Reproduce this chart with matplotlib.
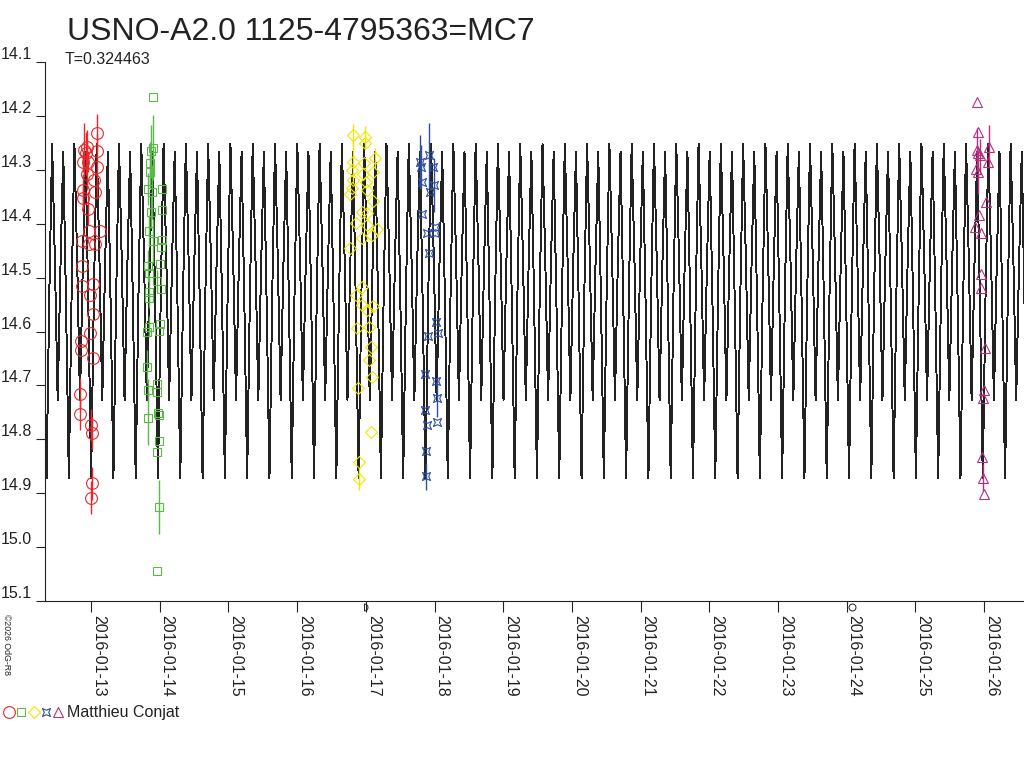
import numpy as np
import matplotlib
matplotlib.use("Agg")
import matplotlib.pyplot as plt
import matplotlib.dates as mdates
from matplotlib.path import Path
from matplotlib.lines import Line2D
from matplotlib.legend_handler import HandlerTuple
from matplotlib.ticker import FormatStrFormatter, MultipleLocator

plt.rcParams['font.family'] = ['Liberation Sans', 'DejaVu Sans']

title = "USNO-A2.0 1125-4795363=MC7"
period = 0.324463
observer = "Matthieu Conjat"
credit = "\u00a92026 OdG-R8"

# model light curve over one cycle, phase 0 = primary minimum
tpl_phase = [0.0, 0.125, 0.25, 0.375, 0.5, 0.625, 0.75, 0.875]
tpl_mag = [14.872, 14.53, 14.252, 14.47, 14.727, 14.48, 14.267, 14.55]
epoch = 19.815          # day of January 2016

# observations: day of January 2016, magnitude, error
red_t = [13.083, 12.937, 12.902, 12.923, 13.083, 12.888, 12.961, 13.092, 12.937,
         13.048, 12.888, 13.058, 12.879, 12.961, 12.971, 13.131, 12.873, 12.975,
         13.058, 12.865, 12.865, 13.033, 12.985, 13.033, 12.985, 12.850, 12.850,
         13.025, 12.840, 12.840, 13.000, 13.010, 13.010, 13.000]
red_m = [14.231, 14.257, 14.263, 14.269, 14.265, 14.285, 14.285, 14.294, 14.308,
         14.319, 14.337, 14.341, 14.352, 14.372, 14.413, 14.413, 14.433, 14.438,
         14.438, 14.478, 14.515, 14.511, 14.532, 14.568, 14.603, 14.617, 14.634,
         14.649, 14.716, 14.753, 14.773, 14.789, 14.882, 14.908]
red_e = [0.035, 0.03, 0.05, 0.04, 0.0, 0.02, 0.02, 0.06, 0.03,
         0.0, 0.03, 0.0, 0.02, 0.03, 0.0, 0.0, 0.0, 0.0,
         0.0, 0.0, 0.0, 0.0, 0.0, 0.0, 0.0, 0.0, 0.0,
         0.0, 0.03, 0.03, 0.03, 0.03, 0.03, 0.03]

green_t = [13.902, 13.898, 13.873, 13.859, 13.859, 13.834, 13.892, 14.029, 13.873,
           14.029, 13.848, 13.898, 14.029, 14.014, 13.825, 13.844, 14.004, 13.956,
           13.844, 13.848, 14.014, 13.844, 13.811, 14.004, 13.994, 13.811, 13.825,
           13.956, 13.956, 13.834, 13.979, 13.990, 13.990, 13.965, 13.990, 13.960]
green_m = [14.165, 14.259, 14.266, 14.288, 14.305, 14.336, 14.341, 14.336, 14.378,
           14.375, 14.413, 14.432, 14.430, 14.443, 14.478, 14.491, 14.475, 14.506,
           14.526, 14.537, 14.521, 14.591, 14.601, 14.586, 14.599, 14.665, 14.709,
           14.698, 14.712, 14.760, 14.752, 14.754, 14.804, 14.823, 14.925, 15.044]
green_e = [0.0, 0.06, 0.05, 0.04, 0.03, 0.03, 0.05, 0.0, 0.03,
           0.0, 0.03, 0.04, 0.0, 0.0, 0.03, 0.0, 0.0, 0.02,
           0.03, 0.0, 0.0, 0.02, 0.0, 0.0, 0.0, 0.03, 0.02,
           0.0, 0.0, 0.05, 0.0, 0.0, 0.0, 0.0, 0.05, 0.0]

yellow_t = [16.817, 16.987, 16.987, 17.133, 16.817, 16.973, 16.794, 16.962, 17.108,
            16.817, 17.002, 16.794, 17.012, 16.769, 17.108, 16.939, 17.012, 16.856,
            17.012, 17.157, 17.085, 16.948, 16.769, 16.939, 16.856, 16.939, 17.099,
            17.021, 16.866, 17.050, 17.070, 17.050, 17.085, 16.890, 17.070, 16.904,
            16.904]
yellow_m = [14.235, 14.239, 14.251, 14.279, 14.285, 14.287, 14.300, 14.307, 14.304,
            14.319, 14.322, 14.334, 14.337, 14.344, 14.357, 14.378, 14.381, 14.399,
            14.402, 14.410, 14.421, 14.427, 14.445, 14.517, 14.532, 14.551, 14.553,
            14.560, 14.594, 14.591, 14.629, 14.652, 14.684, 14.705, 14.786, 14.842,
            14.874]
yellow_e = [0.02, 0.02, 0.0, 0.02, 0.04, 0.0, 0.0, 0.0, 0.0,
            0.0, 0.0, 0.0, 0.0, 0.0, 0.0, 0.0, 0.0, 0.0,
            0.0, 0.0, 0.0, 0.0, 0.0, 0.0, 0.0, 0.0, 0.0,
            0.0, 0.0, 0.0, 0.0, 0.0, 0.0, 0.0, 0.0, 0.0,
            0.02]

blue_t = [17.787, 17.923, 17.981, 17.798, 17.812, 17.991, 17.933, 17.812, 17.894,
          18.006, 18.006, 17.918, 18.020, 17.908, 18.045, 17.860, 18.020, 18.039,
          17.860, 17.885, 18.031, 17.875, 17.875]
blue_m = [14.285, 14.273, 14.294, 14.294, 14.322, 14.328, 14.341, 14.382, 14.417,
          14.406, 14.417, 14.455, 14.582, 14.608, 14.603, 14.678, 14.692, 14.723,
          14.746, 14.773, 14.767, 14.821, 14.869]
blue_e = [0.05, 0.06, 0.0, 0.04, 0.0, 0.05, 0.0, 0.0, 0.0,
          0.0, 0.0, 0.0, 0.0, 0.0, 0.0, 0.0, 0.0, 0.035,
          0.0, 0.0, 0.0, 0.0, 0.025]

purple_t = [25.897, 25.912, 25.889, 26.072, 25.912, 25.937, 25.878, 26.057, 25.912,
            26.034, 25.926, 25.864, 25.947, 25.951, 25.951, 26.009, 25.995, 25.976,
            25.970, 25.985, 25.995]
purple_m = [14.174, 14.229, 14.263, 14.257, 14.269, 14.273, 14.299, 14.285, 14.304,
            14.359, 14.384, 14.406, 14.417, 14.494, 14.520, 14.631, 14.709, 14.724,
            14.832, 14.871, 14.902]
purple_e = [0.0, 0.0, 0.04, 0.04, 0.0, 0.03, 0.0, 0.0, 0.04,
            0.0, 0.0, 0.0, 0.0, 0.0, 0.0, 0.0, 0.0, 0.0,
            0.0, 0.025, 0.0]

# moon phases shown on the time axis (first quarter, full moon)
moon_t = [16.976, 24.074]

x_range = (12.33, 26.58)
y_range = (15.1, 14.1)


def jan_day(d):
    base = mdates.date2num(np.datetime64("2016-01-01"))
    return base + np.asarray(d, dtype=float) - 1.0


star = Path([(-1, -1), (0, -0.55), (1, -1), (0.55, 0), (1, 1), (0, 0.55),
             (-1, 1), (-0.55, 0), (-1, -1)], closed=True)

groups = [
    (red_t, red_m, red_e, "o", "#e8282d", 8.5),
    (green_t, green_m, green_e, "s", "#5ab949", 6.4),
    (yellow_t, yellow_m, yellow_e, "D", "#f2e600", 6.0),
    (blue_t, blue_m, blue_e, star, "#2e4fa0", 5.8),
    (purple_t, purple_m, purple_e, "^", "#b5307f", 7.2),
]

fig = plt.figure(figsize=(10.24, 7.68), dpi=100)
ax = fig.add_axes([45 / 1024, 167 / 768, 979 / 1024, 539 / 768])

# tile the one-cycle template over the visible time range
n0 = int(np.floor((x_range[0] - epoch) / period)) - 1
n1 = int(np.ceil((x_range[1] - epoch) / period)) + 1
model_t = []
model_m = []
for n in range(n0, n1):
    for ph, mg in zip(tpl_phase, tpl_mag):
        model_t.append(epoch + (n + ph) * period)
        model_m.append(mg)
ax.plot(jan_day(model_t), model_m, color="#222222", lw=0.7,
        antialiased=False, zorder=1)

for t, m, e, mk, col, ms in groups:
    ax.errorbar(jan_day(t), m, yerr=e, fmt="none", ecolor=col,
                elinewidth=1.0, capsize=0, zorder=2)
    ax.plot(jan_day(t), m, linestyle="none", marker=mk, ms=ms,
            mfc="none", mec=col, mew=0.8, zorder=3)

# moon phase symbols just under the axis
ax.plot(jan_day(moon_t[:1]), [15.112], linestyle="none",
        marker=Path.wedge(-90, 90), ms=5, mfc="none", mec="#222222",
        mew=0.7, clip_on=False)
ax.plot(jan_day(moon_t[1:]), [15.112], linestyle="none", marker="o",
        ms=5, mfc="none", mec="#222222", mew=0.7, clip_on=False)

ax.set_xlim(jan_day(x_range[0]), jan_day(x_range[1]))
ax.set_ylim(*y_range)

ax.spines["top"].set_visible(False)
ax.spines["right"].set_visible(False)
for side in ("left", "bottom"):
    ax.spines[side].set_color("#222222")
    ax.spines[side].set_linewidth(0.8)

ax.xaxis.set_major_locator(mdates.DayLocator())
ax.xaxis.set_major_formatter(mdates.DateFormatter("%Y-%m-%d"))
ax.yaxis.set_major_locator(MultipleLocator(0.1))
ax.yaxis.set_major_formatter(FormatStrFormatter("%.1f"))

ax.tick_params(axis="x", direction="out", length=8, width=0.8,
               color="#222222", pad=2, labelsize=11.5, labelcolor="#222222")
ax.tick_params(axis="y", direction="out", length=6.5, width=0.8,
               color="#222222", pad=3, labelsize=11.5, labelcolor="#222222")
plt.setp(ax.get_xticklabels(), rotation=270, ha="left", va="top")
plt.setp(ax.get_yticklabels(), va="bottom")

fig.text(67 / 1024, 1 - 40 / 768, title, fontsize=23, color="#222222",
         va="baseline", ha="left")
fig.text(65 / 1024, 1 - 64 / 768, "T=%.6f" % period, fontsize=11.5,
         color="#222222", va="baseline", ha="left")
fig.text(2 / 1024, 1 - 614 / 768, credit, fontsize=6.3, rotation=270,
         color="#222222", va="top", ha="left")

handles = tuple(
    Line2D([], [], linestyle="none", marker=mk, ms=ms, mfc="none",
           mec=col, mew=0.8)
    for _, _, _, mk, col, ms in groups
)
fig.legend([handles], [observer], loc="center left",
           bbox_to_anchor=(4 / 1024, 55 / 768), frameon=False,
           handler_map={tuple: HandlerTuple(ndivide=None, pad=0.2)},
           handlelength=3.7, handletextpad=0.25, borderpad=0,
           borderaxespad=0, fontsize=11.5, labelcolor="#222222")

fig.savefig("out.png", dpi=100)
